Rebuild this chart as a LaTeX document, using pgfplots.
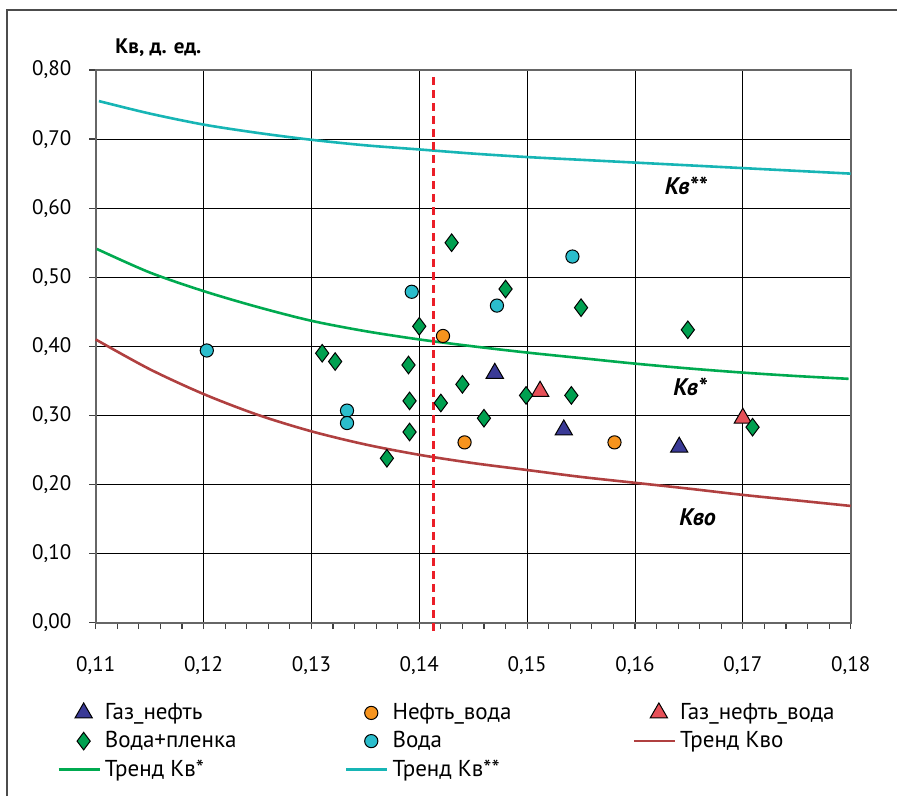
\documentclass[border=0pt]{standalone}
\usepackage{pgfplots}
\pgfplotsset{compat=1.18}
\usepackage{fontspec}
\setmainfont{PT Sans}

\definecolor{cgn}{RGB}{58,58,150}
\definecolor{cnv}{RGB}{247,148,30}
\definecolor{cgnv}{RGB}{230,80,88}
\definecolor{cvp}{RGB}{0,160,80}
\definecolor{cv}{RGB}{43,189,204}
\definecolor{tko}{RGB}{176,64,64}
\definecolor{tk1}{RGB}{0,170,80}
\definecolor{tk2}{RGB}{23,181,181}
\definecolor{cdash}{RGB}{235,30,40}

\newcommand\fs{\fontsize{10.5pt}{12pt}\selectfont}
\newcommand\fl{\fontsize{11.5pt}{13pt}\selectfont}

\begin{document}
\begin{tikzpicture}
\begin{axis}[
  at={(0,0)}, anchor=south west,
  width=377.5pt, height=276.35pt, scale only axis,
  xmin=0.11, xmax=0.18, ymin=0, ymax=0.8,
  xtick={0.11,0.12,0.13,0.14,0.15,0.16,0.17,0.18},
  ytick={0,0.1,0.2,0.3,0.4,0.5,0.6,0.7,0.8},
  minor x tick num=4,
  scaled ticks=false,
  tick pos=left, tick align=outside,
  major tick length=3.2pt, minor tick length=3.2pt,
  grid=major, grid style={black, line width=0.45pt},
  axis line style={draw=gray!80!black, line width=0.9pt},
  tick style={black!75, line width=0.6pt},
  tick label style={font=\fs},
  xticklabel style={yshift=-10pt},
  yticklabel style={xshift=-5.5pt},
  /pgf/number format/.cd, fixed, fixed zerofill, precision=2, use comma, assume math mode=true,
  /pgfplots/.cd,
  clip=false,
  set layers,
  legend columns=3,
  legend cell align=left,
  legend style={draw=none, fill=none, font=\fl, inner sep=0pt,
    at={(axis description cs:-0.0513,-0.138)}, anchor=north west, row sep=0.5pt},
  legend image code/.code={\draw[mark repeat=2,mark phase=2,#1] plot coordinates {(0pt,0pt)(12.5pt,0pt)(20.5pt,0pt)};},
]
% Газ_нефть
\addplot[only marks, mark=triangle*, mark size=5pt, mark options={fill=cgn, draw=black, line width=0.5pt}]
  coordinates {(0.1470,0.361)(0.1534,0.279)(0.1641,0.254)};
\addlegendentry{\makebox[118pt][l]{Газ\_нефть}}
% Нефть_вода
\addplot[only marks, mark=*, mark size=3.3pt, mark options={fill=cnv, draw=black, line width=0.5pt}]
  coordinates {(0.1422,0.415)(0.1442,0.261)(0.1581,0.261)};
\addlegendentry{\makebox[118pt][l]{Нефть\_вода}}
% Газ_нефть_вода
\addplot[only marks, mark=triangle*, mark size=5pt, mark options={fill=cgnv, draw=black, line width=0.5pt}]
  coordinates {(0.1512,0.335)(0.1700,0.296)};
\addlegendentry{Газ\_нефть\_вода}
% Вода+пленка
\addplot[only marks, mark=diamond*, mark size=4.4pt, mark options={fill=cvp, draw=black, line width=0.5pt}]
  coordinates {
  (0.1400,0.429)(0.1430,0.550)(0.1480,0.483)(0.1550,0.456)(0.1649,0.424)
  (0.1310,0.390)(0.1322,0.378)(0.1390,0.373)(0.1391,0.321)(0.1391,0.276)
  (0.1370,0.238)(0.1420,0.318)(0.1440,0.345)(0.1460,0.296)(0.1499,0.329)
  (0.1541,0.329)(0.1709,0.283)};
\addlegendentry{\makebox[118pt][l]{Вода+пленка}}
% Вода
\addplot[only marks, mark=*, mark size=3.3pt, mark options={fill=cv, draw=black, line width=0.5pt}]
  coordinates {(0.1393,0.479)(0.1542,0.530)(0.1472,0.459)(0.1203,0.394)(0.1333,0.307)(0.1333,0.289)};
\addlegendentry{\makebox[118pt][l]{Вода}}
% Тренд Кво
\addplot[on layer=pre main, tko, line width=1.3pt, smooth] coordinates {
  (0.110,0.410)(0.115,0.367)(0.120,0.331)(0.125,0.301)(0.130,0.277)(0.135,0.258)
  (0.140,0.243)(0.145,0.231)(0.150,0.221)(0.155,0.211)(0.160,0.2025)(0.165,0.194)
  (0.170,0.185)(0.175,0.177)(0.180,0.169)};
\addlegendentry{Тренд Кво}
% Тренд Кв*
\addplot[on layer=pre main, tk1, line width=1.3pt, smooth] coordinates {
  (0.1101,0.541)(0.115,0.507)(0.120,0.480)(0.125,0.457)(0.130,0.437)(0.135,0.422)
  (0.140,0.410)(0.145,0.400)(0.150,0.391)(0.155,0.383)(0.160,0.375)(0.165,0.368)
  (0.170,0.362)(0.175,0.357)(0.1798,0.353)};
\addlegendentry{\makebox[118pt][l]{Тренд Кв*}}
% Тренд Кв**
\addplot[on layer=pre main, tk2, line width=1.3pt, smooth] coordinates {
  (0.1103,0.755)(0.115,0.737)(0.120,0.721)(0.125,0.709)(0.130,0.699)(0.135,0.691)
  (0.140,0.685)(0.145,0.679)(0.150,0.674)(0.155,0.670)(0.160,0.666)(0.165,0.662)
  (0.170,0.658)(0.175,0.654)(0.180,0.650)};
\addlegendentry{\makebox[118pt][l]{Тренд Кв**}}
% граница
\addplot[forget plot, cdash, line width=1.4pt, dash pattern=on 4pt off 2.5pt]
  coordinates {(0.1413,0.79)(0.1413,-0.018)};
\node[font=\fontsize{12pt}{14pt}\selectfont\bfseries\itshape] at (axis cs:0.1647,0.633) {Кв**};
\node[font=\fontsize{12pt}{14pt}\selectfont\bfseries\itshape] at (axis cs:0.1651,0.342) {Кв*};
\node[font=\fontsize{12pt}{14pt}\selectfont\bfseries\itshape] at (axis cs:0.1658,0.152) {Кво};
\end{axis}
\node[anchor=west, inner sep=0pt, font=\fs\bfseries] at (9.65pt,287.35pt) {Кв, д. ед.};
\draw[gray!60!black, line width=0.8pt] (-44.35pt,-86.65pt) -- (-44.35pt,306.35pt) -- (400.65pt,306.35pt);
\pgfresetboundingbox
\useasboundingbox (-47.85pt,-86.65pt) rectangle (400.65pt,311.35pt);
\end{tikzpicture}
\end{document}
